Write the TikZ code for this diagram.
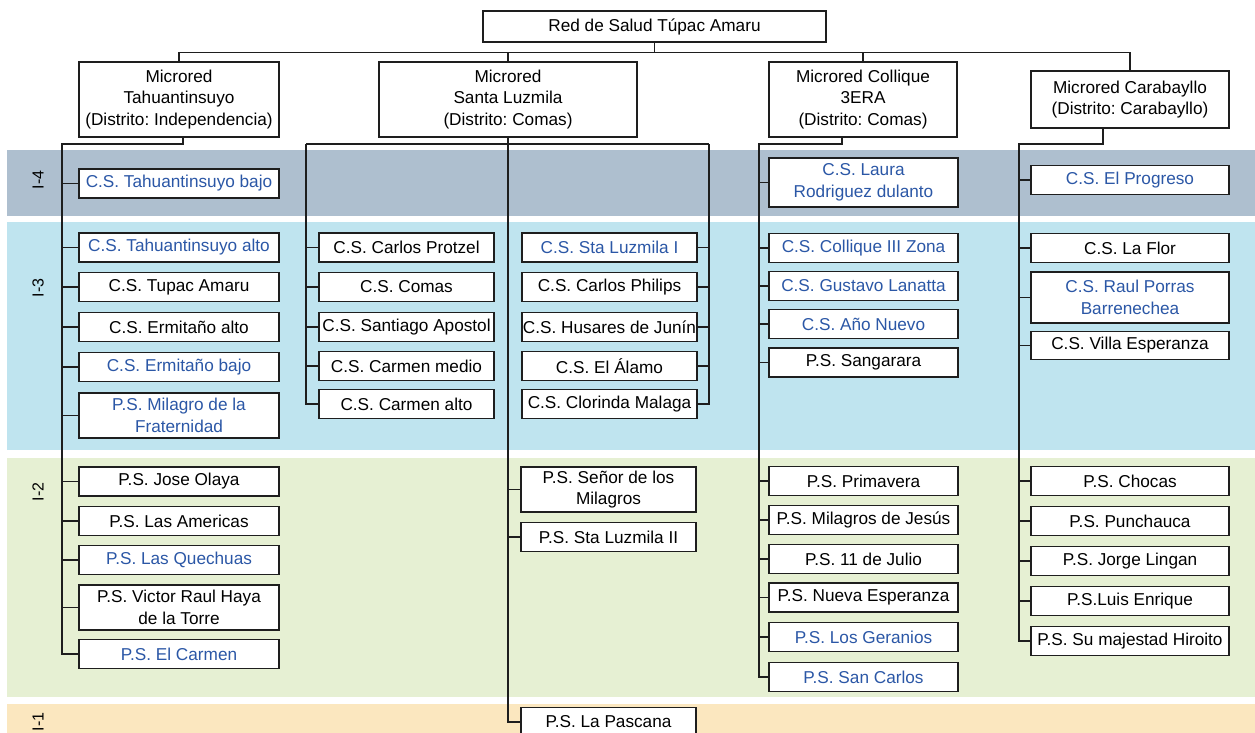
\documentclass[tikz,border=0pt]{standalone}
\usepackage{fontspec}
\setmainfont{Liberation Sans}
\frenchspacing
\definecolor{bandfour}{HTML}{AEBFCF}
\definecolor{bandthree}{HTML}{BFE4EF}
\definecolor{bandtwo}{HTML}{E6F0D3}
\definecolor{bandone}{HTML}{FBE7BF}
\definecolor{esblue}{HTML}{2B57A6}
\definecolor{boxline}{HTML}{1E1E1E}

\begin{document}
\begin{tikzpicture}[x=1pt, y=-1pt,
    % Styles
    every node/.style={font=\fontsize{17.2}{21.5}\selectfont},
    unit/.style={draw=boxline, line width=1.1pt, fill=white, inner sep=0pt, align=center, minimum height=29pt},
    head/.style={unit, minimum height=75pt},
    tahbox/.style={unit, minimum width=200pt},
    stlbox/.style={unit, minimum width=175pt},
    colbox/.style={unit, minimum width=189pt},
    carbox/.style={unit, minimum width=198pt},
    ref/.style={text=esblue},
    level/.style={rotate=90, font=\fontsize{16}{18}\selectfont},
    link/.style={draw=boxline, line width=1.1pt},
]
\useasboundingbox (0,0) rectangle (1255,732);

% Levels
\fill[bandfour] (7,150) rectangle (1255,216);
\fill[bandthree] (7,222) rectangle (1255,450);
\fill[bandtwo] (7,458) rectangle (1255,697);
\fill[bandone] (7,704) rectangle (1255,745);
\node[level] (lv4) at (38,180) {I-4};
\node[level] (lv3) at (38,288) {I-3};
\node[level] (lv2) at (38,492) {I-2};
\node[level] (lv1) at (38,722) {I-1};

% Red and microredes
\node[unit, minimum width=343pt, minimum height=31pt] (red) at (654.5,26.5) {Red de Salud Túpac Amaru};
\node[head, minimum width=200pt] (tah) at (179,99.5) {Microred\\Tahuantinsuyo\\(Distrito: Independencia)};
\node[head, minimum width=258pt] (stl) at (508,99.5) {Microred\\Santa Luzmila\\(Distrito: Comas)};
\node[head, minimum width=188pt] (col) at (863,99.5) {Microred Collique\\3ERA\\(Distrito: Comas)};
\node[unit, minimum width=198pt, minimum height=57pt] (car) at (1130,99.5) {Microred Carabayllo\\(Distrito: Carabayllo)};

\draw[link] (red.south) -- ++(0,10) coordinate (bus);
\foreach \m in {tah,stl,col,car}
  \draw[link] (bus) -| (\m.north);

% Microred Tahuantinsuyo
\node[tahbox, ref] (t1) at (179,183.5) {C.S. Tahuantinsuyo bajo};
\node[tahbox, ref] (t2) at (179,247.5) {C.S. Tahuantinsuyo alto};
\node[tahbox] (t3) at (179,287) {C.S. Tupac Amaru};
\node[tahbox] (t4) at (179,327) {C.S. Ermitaño alto};
\node[tahbox, ref] (t5) at (179,367) {C.S. Ermitaño bajo};
\node[tahbox, ref, minimum height=45pt] (t6) at (179,415.5) {P.S. Milagro de la\\Fraternidad};
\node[tahbox] (t7) at (179,481.5) {P.S. Jose Olaya};
\node[tahbox] (t8) at (179,521) {P.S. Las Americas};
\node[tahbox, ref] (t9) at (179,560) {P.S. Las Quechuas};
\node[tahbox, minimum height=45pt] (t10) at (179,607.5) {P.S. Victor Raul Haya\\de la Torre};
\node[tahbox, ref] (t11) at (179,654) {P.S. El Carmen};

\coordinate (tahL) at (62,144);
\draw[link] ([xshift=4pt]tah.south) |- (tahL) |- (t11.west);
\foreach \n in {t1,t2,t3,t4,t5,t6,t7,t8,t9,t10}
  \draw[link] (\n.west) -- (\n.west -| tahL);

% Microred Santa Luzmila
\node[stlbox] (l1) at (406.5,247.5) {C.S. Carlos Protzel};
\node[stlbox] (l2) at (406.5,287) {C.S. Comas};
\node[stlbox] (l3) at (406.5,327) {C.S. Santiago Apostol};
\node[stlbox] (l4) at (406.5,366) {C.S. Carmen medio};
\node[stlbox] (l5) at (406.5,404) {C.S. Carmen alto};

\node[stlbox, ref] (r1) at (609.5,247.5) {C.S. Sta Luzmila I};
\node[stlbox] (r2) at (609.5,287) {C.S. Carlos Philips};
\node[stlbox] (r3) at (609.5,327) {C.S. Husares de Junín};
\node[stlbox] (r4) at (609.5,366) {C.S. El Álamo};
\node[stlbox] (r5) at (609.5,404) {C.S. Clorinda Malaga};

\node[stlbox, minimum height=45pt] (m1) at (608.5,489.5) {P.S. Señor de los\\Milagros};
\node[stlbox] (m2) at (608.5,537) {P.S. Sta Luzmila II};
\node[stlbox] (m3) at (608.5,722) {P.S. La Pascana};

\coordinate (stlL) at (306,144);
\coordinate (stlR) at (709,144);
\draw[link] (stlL) -- (stlR);
\draw[link] (stlL) |- (l5.west);
\draw[link] (stlR) |- (r5.east);
\draw[link] (stl.south) |- (m3.west);
\foreach \n in {l1,l2,l3,l4}
  \draw[link] (\n.west) -- (\n.west -| stlL);
\foreach \n in {r1,r2,r3,r4}
  \draw[link] (\n.east) -- (\n.east -| stlR);
\foreach \n in {m1,m2}
  \draw[link] (\n.west) -- (\n.west -| stl.south);

% Microred Collique 3ERA
\node[colbox, ref, minimum height=49pt] (c1) at (863.5,182.5) {C.S. Laura\\Rodriguez dulanto};
\node[colbox, ref] (c2) at (863.5,248) {C.S. Collique III Zona};
\node[colbox, ref] (c3) at (863.5,286) {C.S. Gustavo Lanatta};
\node[colbox, ref] (c4) at (863.5,324) {C.S. Año Nuevo};
\node[colbox] (c5) at (863.5,362.5) {P.S. Sangarara};
\node[colbox] (c6) at (863.5,481) {P.S. Primavera};
\node[colbox] (c7) at (863.5,520) {P.S. Milagros de Jesús};
\node[colbox] (c8) at (863.5,559) {P.S. 11 de Julio};
\node[colbox] (c9) at (863.5,597.5) {P.S. Nueva Esperanza};
\node[colbox, ref] (c10) at (863.5,637) {P.S. Los Geranios};
\node[colbox, ref] (c11) at (863.5,677) {P.S. San Carlos};

\coordinate (colL) at (759,144);
\draw[link] ([xshift=-21pt]col.south) |- (colL) |- (c11.west);
\foreach \n in {c1,c2,c3,c4,c5,c6,c7,c8,c9,c10}
  \draw[link] (\n.west) -- (\n.west -| colL);

% Microred Carabayllo
\node[carbox, ref] (k1) at (1130,180) {C.S. El Progreso};
\node[carbox] (k2) at (1130,248) {C.S. La Flor};
\node[carbox, ref, minimum height=51pt] (k3) at (1130,297.5) {C.S. Raul Porras\\Barrenechea};
\node[carbox, minimum height=28pt] (k4) at (1130,345.5) {C.S. Villa Esperanza};
\node[carbox] (k5) at (1130,481) {P.S. Chocas};
\node[carbox] (k6) at (1130,521) {P.S. Punchauca};
\node[carbox] (k7) at (1130,561) {P.S. Jorge Lingan};
\node[carbox] (k8) at (1130,601) {P.S.Luis Enrique};
\node[carbox] (k9) at (1130,641) {P.S. Su majestad Hiroito};

\coordinate (carL) at (1019,144);
\draw[link] ([xshift=-27pt]car.south) |- (carL) |- (k9.west);
\foreach \n in {k1,k2,k3,k4,k5,k6,k7,k8}
  \draw[link] (\n.west) -- (\n.west -| carL);

\end{tikzpicture}
\end{document}
